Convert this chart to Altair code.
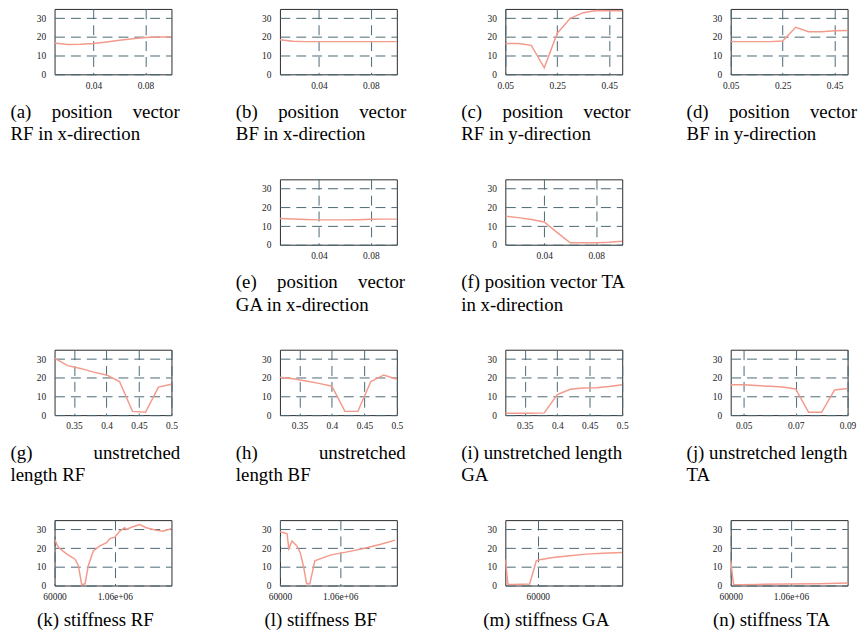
import altair as alt
import pandas as pd

# ---------------- data ----------------
X_SMALL = [0.01, 0.02, 0.03, 0.04, 0.05, 0.06, 0.07, 0.08, 0.09, 0.10]
A_Y = [16.8, 16.0, 16.1, 16.5, 17.3, 18.2, 19.0, 19.7, 20.0, 20.0]
B_Y = [18.5, 17.7, 17.5, 17.5, 17.5, 17.5, 17.5, 17.5, 17.5, 17.5]
E_Y = [14.0, 13.8, 13.5, 13.3, 13.3, 13.3, 13.4, 13.6, 13.7, 13.7]
F_Y = [15.3, 14.5, 13.5, 12.2, 6.5, 1.0, 1.0, 1.0, 1.3, 1.8]

X_YDIR = [0.05, 0.10, 0.15, 0.20, 0.25, 0.30, 0.35, 0.40, 0.45, 0.50]
C_Y = [16.5, 16.5, 15.5, 3.5, 22.0, 30.0, 33.0, 34.2, 34.0, 34.0]
D_Y = [17.5, 17.5, 17.5, 17.5, 17.8, 25.2, 22.8, 22.8, 23.3, 23.4]

X_LEN = [0.32, 0.34, 0.36, 0.38, 0.40, 0.42, 0.44, 0.46, 0.48, 0.50]
G_Y = [30.5, 26.5, 25.0, 23.0, 21.5, 18.0, 2.0, 1.5, 15.0, 16.5]
H_Y = [20.3, 19.5, 18.3, 17.0, 15.5, 2.0, 2.0, 18.0, 21.5, 19.2]
I_Y = [1.0, 1.0, 1.0, 1.2, 11.0, 13.8, 14.5, 14.6, 15.3, 16.2]

J_X = [0.045, 0.05, 0.055, 0.06, 0.065, 0.07, 0.075, 0.08, 0.085, 0.09]
J_Y = [16.2, 16.2, 15.8, 15.4, 15.0, 14.0, 1.5, 1.5, 13.5, 14.2]

K_X = [60000, 126000, 264000, 401000, 455000, 511000, 566000, 620000, 703000,
       813000, 923000, 978000, 1060000, 1142000, 1225000, 1253000, 1335000,
       1472000, 1582000, 1747000, 1856000, 1994000]
K_Y = [24.7, 20.3, 16.8, 14.1, 10.6, 0.4, 0.9, 10.6, 18.5, 21.2, 22.9, 25.1,
       25.9, 29.1, 30.9, 30.0, 31.2, 32.6, 30.9, 29.6, 29.1, 30.4]

L_X = [60000, 125000, 179000, 206000, 260000, 341000, 395000, 449000, 503000,
       557000, 638000, 908000, 1178000, 1449000, 1718000, 1972000]
L_Y = [28.8, 28.2, 27.7, 19.8, 23.8, 21.2, 17.7, 10.6, 0.9, 0.9, 13.2, 16.4,
       18.0, 19.8, 22.0, 24.3]

M_X = [10000, 14100, 21800, 47400, 52600, 57700, 62800, 83400, 109000, 134600,
       160300, 190000]
M_Y = [14.0, 0.5, 0.5, 0.8, 7.0, 13.2, 13.8, 15.0, 15.9, 16.8, 17.3, 17.7]

N_X = [60000, 90000, 110000, 200000, 500000, 1000000, 1500000, 2000000]
N_Y = [13.5, 5.0, 0.4, 0.4, 0.6, 0.8, 1.0, 1.3]

Y_TICKS = [0, 10, 20, 30]

# captions: first line words (justified) and second line
CAPTIONS = {
    "a": (["(a)", "position", "vector"], "RF in x-direction"),
    "b": (["(b)", "position", "vector"], "BF in x-direction"),
    "c": (["(c)", "position", "vector"], "RF in y-direction"),
    "d": (["(d)", "position", "vector"], "BF in y-direction"),
    "e": (["(e)", "position", "vector"], "GA in x-direction"),
    "f": (["(f) position vector TA"], "in x-direction"),
    "g": (["(g)", "unstretched"], "length RF"),
    "h": (["(h)", "unstretched"], "length BF"),
    "i": (["(i) unstretched length"], "GA"),
    "j": (["(j) unstretched length"], "TA"),
    "k": (["(k) stiffness RF"], None),
    "l": (["(l) stiffness BF"], None),
    "m": (["(m) stiffness GA"], None),
    "n": (["(n) stiffness TA"], None),
}

# ---------------- styling ----------------
LINE = "#f39a8c"
GRID = "#4a6874"
FRAME = "#2b2b2b"
SERIF = "Liberation Serif"
CAP_SIZE = 19
PW, PH = 118, 66
CAP_W = 172.0

NBSP = "\u00a0"      # 1/4 em
SIXTH = "\u2006"     # 1/6 em
TIMES = {" ": 250, "(": 333, ")": 333, "a": 444, "b": 500, "c": 444, "d": 500,
         "e": 444, "f": 333, "g": 500, "h": 500, "i": 278, "j": 278, "k": 500,
         "l": 278, "m": 778, "n": 500, "o": 500, "p": 500, "r": 333, "s": 389,
         "t": 278, "u": 500, "v": 500, "x": 500, "y": 500, "-": 333}


def text_width(s):
    return sum(TIMES.get(ch, 600) for ch in s) * CAP_SIZE / 1000.0


def gap_string(gap_px):
    em = gap_px / CAP_SIZE
    best = None
    for a in range(0, 20):
        for b in range(0, 6):
            err = abs(a * 0.25 + b / 6.0 - em)
            if best is None or err < best[0]:
                best = (err, a, b)
    _, a, b = best
    return NBSP * a + SIXTH * b


def justify(words):
    if len(words) == 1:
        return words[0]
    natural = sum(text_width(w) for w in words)
    gap = (CAP_W - natural) / (len(words) - 1)
    return gap_string(gap).join(words)


def label_expr(ticks, labels):
    expr = "''"
    for v, lab in reversed(list(zip(ticks, labels))):
        expr = f"datum.value == {v!r} ? '{lab}' : ({expr})"
    return expr


def axis_common():
    return dict(title=None, grid=True, gridColor=GRID, gridDash=[10, 6],
                gridWidth=1, ticks=False, domain=False, labelFlush=False,
                labelOverlap=False, labelFont=SERIF, labelFontSize=9.5,
                labelColor="#222222")


def panel(key, xs, ys, domain, ticks, labels):
    words, line2 = CAPTIONS[key]
    first = justify(words)
    if line2 is None:
        title = alt.TitleParams(text=first, orient="bottom", anchor="middle",
                                frame="group", dx=-17.75, offset=10.5,
                                baseline="top", font=SERIF, fontSize=CAP_SIZE,
                                fontWeight="normal", color="black")
    else:
        title = alt.TitleParams(text=[first, line2], orient="bottom",
                                anchor="start", frame="group", dx=-44.5,
                                offset=13.5, baseline="top", font=SERIF,
                                fontSize=CAP_SIZE, fontWeight="normal",
                                color="black", lineHeight=22.5)
    df = pd.DataFrame({"x": xs, "y": ys})
    return alt.Chart(df).mark_line(color=LINE, strokeWidth=1.5, clip=True).encode(
        x=alt.X("x:Q", scale=alt.Scale(domain=domain, nice=False, zero=False),
                axis=alt.Axis(values=ticks, labelExpr=label_expr(ticks, labels),
                              labelPadding=6, **axis_common())),
        y=alt.Y("y:Q", scale=alt.Scale(domain=[0, 35], nice=False),
                axis=alt.Axis(values=Y_TICKS, labelPadding=9, **axis_common())),
    ).properties(width=PW, height=PH, title=title)


def blank():
    return alt.Chart(pd.DataFrame({"v": [0]})).mark_point(opacity=0).encode(
        x=alt.X("v:Q", axis=None), y=alt.Y("v:Q", axis=None)
    ).properties(width=PW, height=PH, view=alt.ViewBackground(stroke="transparent"))


SMALL_T, SMALL_L = [0.04, 0.08], ["0.04", "0.08"]
YDIR_T, YDIR_L = [0.05, 0.25, 0.45], ["0.05", "0.25", "0.45"]
LEN_T, LEN_L = [0.35, 0.4, 0.45, 0.5], ["0.35", "0.4", "0.45", "0.5"]
TA_T, TA_L = [0.05, 0.07, 0.09], ["0.05", "0.07", "0.09"]
STIF_T, STIF_L = [60000, 1060000], ["60000", "1.06e+06"]

charts = [
    panel("a", X_SMALL, A_Y, [0.01, 0.1], SMALL_T, SMALL_L),
    panel("b", X_SMALL, B_Y, [0.01, 0.1], SMALL_T, SMALL_L),
    panel("c", X_YDIR, C_Y, [0.05, 0.5], YDIR_T, YDIR_L),
    panel("d", X_YDIR, D_Y, [0.05, 0.5], YDIR_T, YDIR_L),
    blank(),
    panel("e", X_SMALL, E_Y, [0.01, 0.1], SMALL_T, SMALL_L),
    panel("f", X_SMALL, F_Y, [0.01, 0.1], SMALL_T, SMALL_L),
    blank(),
    panel("g", X_LEN, G_Y, [0.32, 0.5], LEN_T, LEN_L),
    panel("h", X_LEN, H_Y, [0.32, 0.5], LEN_T, LEN_L),
    panel("i", X_LEN, I_Y, [0.32, 0.5], LEN_T, LEN_L),
    panel("j", J_X, J_Y, [0.045, 0.09], TA_T, TA_L),
    panel("k", K_X, K_Y, [60000, 2000000], STIF_T, STIF_L),
    panel("l", L_X, L_Y, [60000, 2000000], STIF_T, STIF_L),
    panel("m", M_X, M_Y, [10000, 190000], [60000], ["60000"]),
    panel("n", N_X, N_Y, [60000, 2000000], STIF_T, STIF_L),
]

chart = alt.concat(
    *charts, columns=4, spacing={"row": 106, "column": 109.5}, bounds="flush"
).properties(
    padding={"left": 2, "top": -3, "right": 0, "bottom": 0}
).configure_view(stroke=FRAME, strokeWidth=1)

chart.save("out.html", embed_options={"renderer": "svg", "actions": False})
